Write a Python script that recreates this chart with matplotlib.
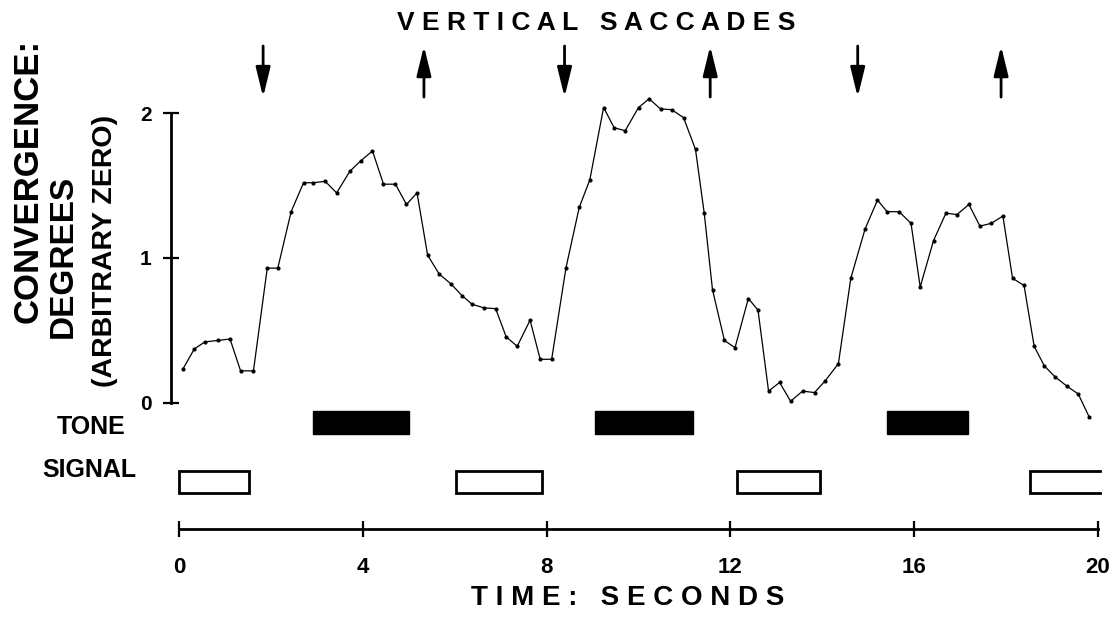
import matplotlib
matplotlib.use("Agg")
import matplotlib.pyplot as plt

plt.rcParams['font.family'] = ['Liberation Sans', 'DejaVu Sans']

# ---- data ----
time_s = [0.08, 0.33, 0.56, 0.84, 1.11, 1.34, 1.62, 1.92, 2.15, 2.44, 2.71, 2.92, 3.18, 3.43,
          3.72, 3.95, 4.21, 4.45, 4.71, 4.95, 5.18, 5.41, 5.66, 5.92, 6.16, 6.38, 6.64, 6.89,
          7.12, 7.36, 7.64, 7.86, 8.11, 8.42, 8.71, 8.94, 9.24, 9.47, 9.71, 10.00, 10.23, 10.48,
          10.72, 10.98, 11.24, 11.43, 11.61, 11.87, 12.10, 12.39, 12.60, 12.83, 13.07, 13.31,
          13.57, 13.83, 14.06, 14.35, 14.62, 14.93, 15.20, 15.41, 15.67, 15.93, 16.13, 16.42,
          16.69, 16.93, 17.19, 17.43, 17.68, 17.93, 18.14, 18.39, 18.61, 18.83, 19.06, 19.32,
          19.57, 19.81]
convergence_deg = [0.23, 0.37, 0.42, 0.43, 0.44, 0.22, 0.22, 0.93, 0.93, 1.32, 1.52, 1.52, 1.53, 1.45,
                   1.60, 1.67, 1.74, 1.51, 1.51, 1.37, 1.45, 1.02, 0.89, 0.82, 0.74, 0.68, 0.655, 0.65,
                   0.455, 0.39, 0.57, 0.30, 0.30, 0.93, 1.35, 1.54, 2.04, 1.90, 1.88, 2.04, 2.10, 2.03,
                   2.025, 1.97, 1.75, 1.31, 0.78, 0.43, 0.38, 0.72, 0.64, 0.08, 0.14, 0.01,
                   0.08, 0.07, 0.15, 0.27, 0.86, 1.20, 1.40, 1.32, 1.32, 1.24, 0.80, 1.12,
                   1.31, 1.30, 1.37, 1.22, 1.24, 1.29, 0.86, 0.81, 0.39, 0.255, 0.18, 0.115,
                   0.06, -0.10]

tone_start = [2.92, 9.05, 15.40]
tone_end = [5.00, 11.19, 17.18]
signal_start = [0.00, 6.03, 12.15, 18.52]
signal_end = [1.52, 7.89, 13.96, 20.04]
saccade_down = [1.83, 8.39, 14.77]
saccade_up = [5.33, 11.56, 17.89]

x_ticks = [0, 4, 8, 12, 16, 20]
y_ticks = [0, 1, 2]

# ---- figure ----
fig = plt.figure(figsize=(11.17, 6.19), dpi=100)
ax = fig.add_axes([0, 0, 1, 1])
ax.set_xlim(-3.896, 20.413)
ax.set_ylim(-1.495, 2.783)
ax.patch.set_visible(False)

for s in ['top', 'right']:
    ax.spines[s].set_visible(False)
ax.spines['left'].set_position(('data', -0.17))
ax.spines['left'].set_bounds(0, 2)
ax.spines['left'].set_linewidth(2)
ax.spines['bottom'].set_position(('data', -0.873))
ax.spines['bottom'].set_bounds(0, 20)
ax.spines['bottom'].set_linewidth(2)

ax.set_xticks(x_ticks)
ax.set_xticklabels([str(v) for v in x_ticks])
ax.set_yticks(y_ticks)
ax.set_yticklabels([str(v) for v in y_ticks])
ax.tick_params(axis='x', direction='inout', length=12, width=1.6, pad=14,
               labelsize=16)
ax.tick_params(axis='y', direction='inout', length=12, width=1.6, pad=8,
               labelsize=15)
for lab in ax.get_xticklabels() + ax.get_yticklabels():
    lab.set_fontweight('bold')

# curve
ax.plot(time_s, convergence_deg, color='black', lw=0.9, marker='o', ms=3,
        markerfacecolor='black', markeredgewidth=0)

# tone bars (filled)
tone_top, tone_bot = -0.06, -0.214
ax.bar(tone_start, tone_top - tone_bot,
       width=[e - s for s, e in zip(tone_start, tone_end)],
       bottom=tone_bot, align='edge', color='black', edgecolor='black', lw=1)

# signal bars (open)
sig_top, sig_bot = -0.47, -0.624
for s, e in zip(signal_start, signal_end):
    if e >= 20:
        ax.plot([e, s, s, e], [sig_top, sig_top, sig_bot, sig_bot],
                color='black', lw=2, solid_joinstyle='miter')
    else:
        ax.bar([s], sig_top - sig_bot, width=e - s, bottom=sig_bot, align='edge',
               facecolor='white', edgecolor='black', lw=2)

# saccade arrows
arr_top, arr_bot = 2.465, 2.112
aprops = dict(arrowstyle='-|>,head_length=0.9,head_width=0.22', lw=2.0,
              color='black', mutation_scale=20, shrinkA=0, shrinkB=0)
for t in saccade_down:
    ax.annotate('', xy=(t, arr_bot), xytext=(t, arr_top), arrowprops=aprops)
for t in saccade_up:
    ax.annotate('', xy=(t, arr_top), xytext=(t, arr_bot), arrowprops=aprops)

# texts
ax.text(9.085, 2.627, 'V E R T I C A L   S A C C A D E S', ha='center', va='center',
        fontsize=19, fontweight='bold')
ax.text(9.77, -1.349, 'T I M E :   S E C O N D S', ha='center', va='center',
        fontsize=20, fontweight='bold')
ax.text(-3.286, 1.532, 'CONVERGENCE:', rotation=90, ha='center', va='center',
        fontsize=25, fontweight='bold')
ax.text(-2.524, 1.014, 'DEGREES', rotation=90, ha='center', va='center',
        fontsize=24, fontweight='bold')
ax.text(-1.61, 1.048, '(ARBITRARY ZERO)', rotation=90, ha='center', va='center',
        fontsize=20.5, fontweight='bold')
ax.text(-1.915, -0.169, 'TONE', ha='center', va='center', fontsize=18, fontweight='bold')
ax.text(-1.959, -0.465, 'SIGNAL', ha='center', va='center', fontsize=18, fontweight='bold')

fig.savefig('out.png', dpi=100)
